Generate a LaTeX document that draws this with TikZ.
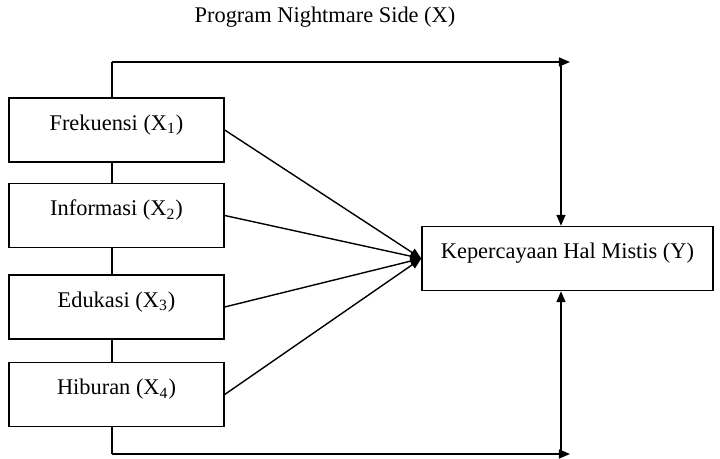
\documentclass[tikz,border=0pt]{standalone}
\usepackage{fontspec}
\setmainfont{Liberation Serif}
\usepackage{tikz}
\usetikzlibrary{arrows.meta, positioning}

\begin{document}
\begin{tikzpicture}[x=0.5pt, y=-0.5pt, font=\fontsize{11.2}{13}\selectfont,
    varbox/.style={draw, line width=0.7pt, fill=white, minimum width=107.5pt, minimum height=32pt, text height=7.7pt, text depth=7.4pt},
    link/.style={line width=0.7pt, -{Triangle[length=5.5pt, width=4.5pt]}}]
                \useasboundingbox (0,0) rectangle (720,459);
                % Title (X)
                \node (title) at (325,17) {Program Nightmare Side (X)};
                % Outer frame line
                \coordinate (topL) at (112,62);
                \coordinate (topR) at (561,62);
                \coordinate (botL) at (112,454);
                \coordinate (botR) at (561,454);
                \draw[line width=0.7pt] (topL) -- (botL);
                % Sub-variables (X1 - X4)
                \node[varbox] (x1) at (116.5,130) {Frekuensi (X\textsubscript{1})};
                \node[varbox] (x2) at (116.5,215.5) {Informasi (X\textsubscript{2})};
                \node[varbox] (x3) at (116.5,307) {Edukasi (X\textsubscript{3})};
                \node[varbox] (x4) at (116.5,394.5) {Hiburan (X\textsubscript{4})};
                % Dependent variable (Y)
                \node[varbox, minimum width=145.5pt] (y) at (567.5,258.5) {Kepercayaan Hal Mistis (Y)};
                % Arrows
                \draw[link] (topL) -- ([xshift=4.5pt]topR);
                \draw[link] (topR) -- (topR |- y.north);
                \draw[link] (botL) -- ([xshift=4.5pt]botR);
                \draw[link] (botR) -- (botR |- y.south);
                \foreach \i in {1,...,4}
                    \draw[link] (x\i.east) -- (y.west);
            \end{tikzpicture}
\end{document}
